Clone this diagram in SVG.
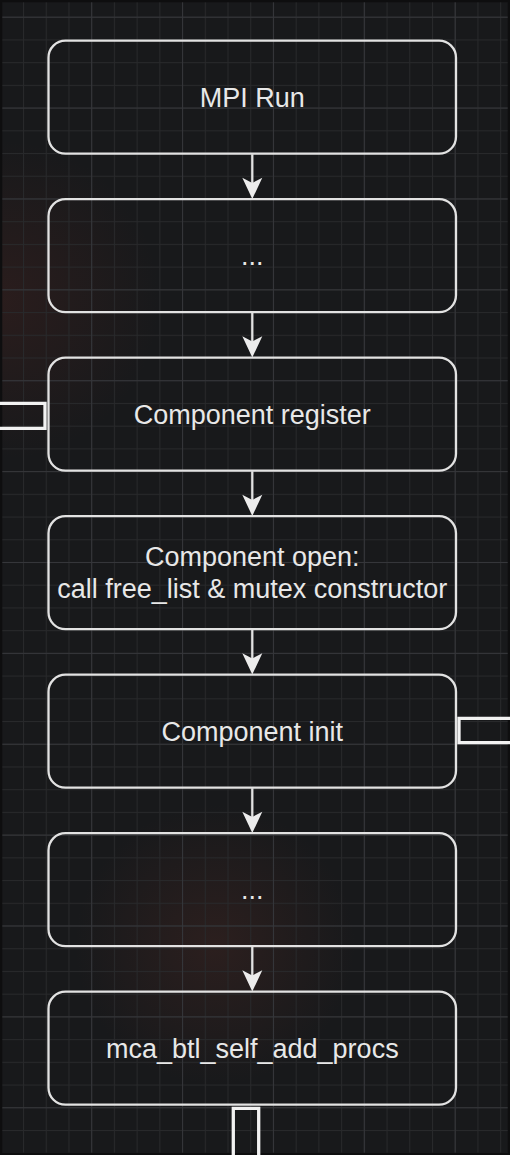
<svg xmlns="http://www.w3.org/2000/svg" width="510" height="1155" viewBox="0 0 510 1155">
  <defs>
    <pattern id="minor" patternUnits="userSpaceOnUse" x="0.3" y="16.7" width="22.72" height="22.72">
      <rect x="0" y="0" width="1" height="22.72" fill="#28292b"/>
      <rect x="0" y="0" width="22.72" height="1" fill="#28292b"/>
    </pattern>
    <pattern id="major" patternUnits="userSpaceOnUse" x="0.3" y="16.7" width="90.88" height="90.88">
      <rect x="0" y="0" width="1" height="90.88" fill="#35363a"/>
      <rect x="0" y="0" width="90.88" height="1" fill="#35363a"/>
    </pattern>
    <radialGradient id="glow1" cx="0" cy="300" r="160" gradientUnits="userSpaceOnUse">
      <stop offset="0" stop-color="#6a2a22" stop-opacity="0.22"/>
      <stop offset="1" stop-color="#6a2a22" stop-opacity="0"/>
    </radialGradient>
    <radialGradient id="glow2" cx="215" cy="945" r="140" gradientUnits="userSpaceOnUse">
      <stop offset="0" stop-color="#5e2e26" stop-opacity="0.28"/>
      <stop offset="1" stop-color="#5e2e26" stop-opacity="0"/>
    </radialGradient>
    <style>
      .box { fill: none; stroke: #e2e2e2; stroke-width: 2.3; }
      .lbl { font-family: "Liberation Sans", Arial, sans-serif; font-size: 27px; fill: #e8e8e8; text-anchor: middle; }
      .edge { stroke: #e2e2e2; stroke-width: 2.3; fill: none; }
      .head { fill: #ececec; stroke: none; }
      .link { fill: none; stroke: #f2f2f2; stroke-width: 3.3; stroke-linejoin: miter; }
    </style>
  </defs>

  <rect x="0" y="0" width="510" height="1155" fill="#18191b"/>
  <rect x="0" y="0" width="510" height="1155" fill="url(#glow1)"/>
  <rect x="0" y="0" width="510" height="1155" fill="url(#glow2)"/>
  <rect x="0" y="0" width="510" height="1155" fill="url(#minor)"/>
  <rect x="0" y="0" width="510" height="1155" fill="url(#major)"/>
  <rect x="1" y="1" width="508" height="1153" fill="none" stroke="#0e0e0f" stroke-width="2.5"/>

  <g id="connectors">
    <path class="edge" d="M252.3,154.2 V192"/>
    <path class="head" d="M252.3,199 L242.3,177.7 L252.3,183 L262.3,177.7 Z"/>
    <path class="edge" d="M252.3,312.7 V350.5"/>
    <path class="head" d="M252.3,357.5 L242.3,336.2 L252.3,341.5 L262.3,336.2 Z"/>
    <path class="edge" d="M252.3,471.2 V509"/>
    <path class="head" d="M252.3,516 L242.3,494.7 L252.3,500 L262.3,494.7 Z"/>
    <path class="edge" d="M252.3,629.7 V667.5"/>
    <path class="head" d="M252.3,674.5 L242.3,653.2 L252.3,658.5 L262.3,653.2 Z"/>
    <path class="edge" d="M252.3,788.2 V826"/>
    <path class="head" d="M252.3,833 L242.3,811.7 L252.3,817 L262.3,811.7 Z"/>
    <path class="edge" d="M252.3,946.7 V984.5"/>
    <path class="head" d="M252.3,991.5 L242.3,970.2 L252.3,975.5 L262.3,970.2 Z"/>
    <path class="link" d="M-2,403.3 H45 V428.3 H-2"/>
    <path class="link" d="M512,718.3 H459 V742.7 H512"/>
    <path class="link" d="M233.3,1157 V1108.3 H258.7 V1157"/>
  </g>

  <g id="mpi-run">
    <rect class="box" x="48.5" y="40.7" width="407.5" height="113" rx="17" ry="17"/>
    <text class="lbl" x="252.3" y="106.7">MPI Run</text>
  </g>
  <g id="dots-1">
    <rect class="box" x="48.5" y="199.2" width="407.5" height="113" rx="17" ry="17"/>
    <text class="lbl" x="252.3" y="265.2">...</text>
  </g>
  <g id="component-register">
    <rect class="box" x="48.5" y="357.7" width="407.5" height="113" rx="17" ry="17"/>
    <text class="lbl" x="252.3" y="423.5">Component register</text>
  </g>
  <g id="component-open">
    <rect class="box" x="48.5" y="516.2" width="407.5" height="113" rx="17" ry="17"/>
    <text class="lbl" x="252.3" y="566">Component open:</text>
    <text class="lbl" x="252.3" y="598.4">call free_list &amp; mutex constructor</text>
  </g>
  <g id="component-init">
    <rect class="box" x="48.5" y="674.7" width="407.5" height="113" rx="17" ry="17"/>
    <text class="lbl" x="252.3" y="740.5">Component init</text>
  </g>
  <g id="dots-2">
    <rect class="box" x="48.5" y="833.2" width="407.5" height="113" rx="17" ry="17"/>
    <text class="lbl" x="252.3" y="899">...</text>
  </g>
  <g id="mca-btl-self-add-procs">
    <rect class="box" x="48.5" y="991.7" width="407.5" height="113" rx="17" ry="17"/>
    <text class="lbl" x="252.3" y="1057.8">mca_btl_self_add_procs</text>
  </g>
</svg>
